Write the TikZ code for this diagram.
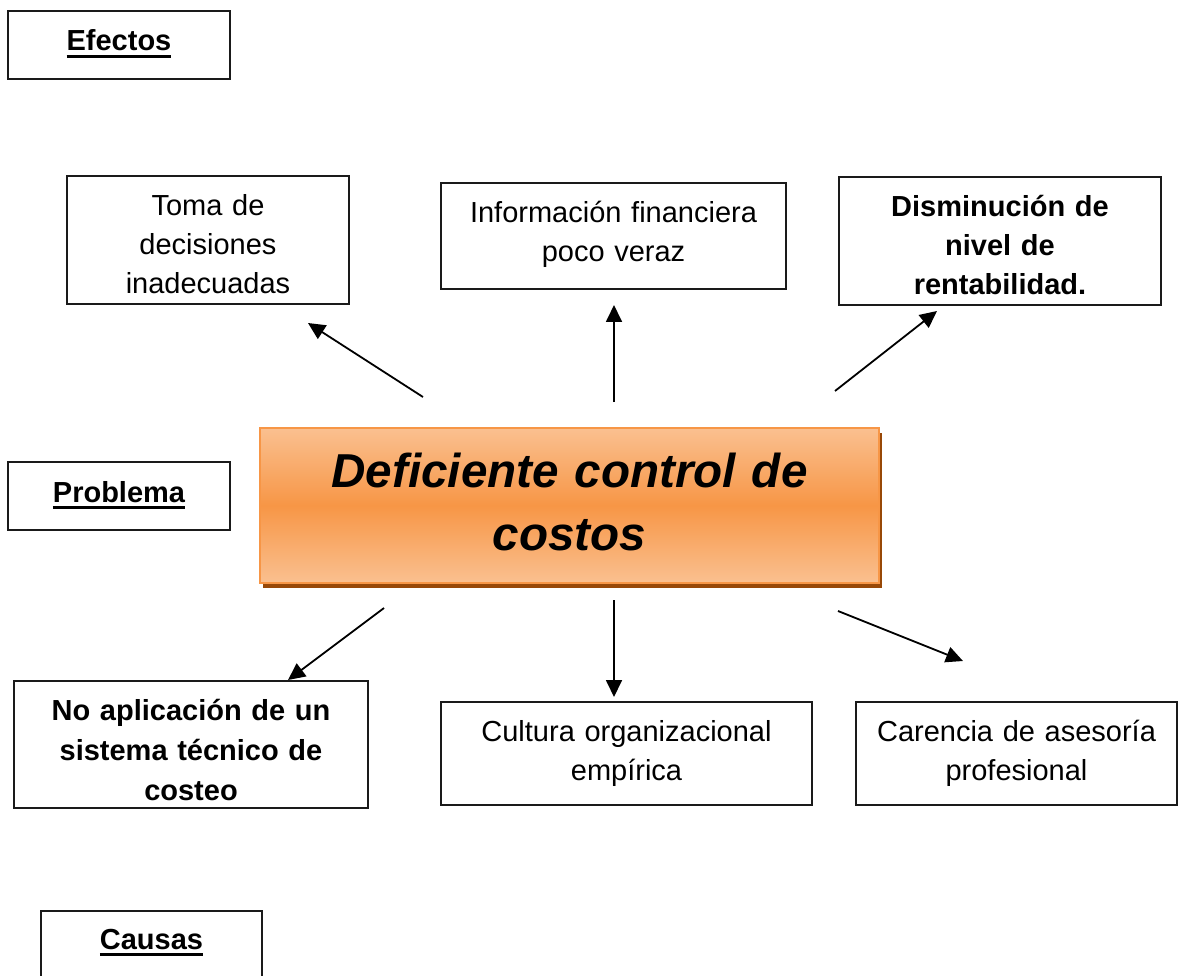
\documentclass[tikz,border=0pt]{standalone}
\usepackage{fontspec}
\setmainfont{Liberation Sans}
\usetikzlibrary{arrows.meta,shadows}
\definecolor{topc}{HTML}{FAC090}
\definecolor{midc}{HTML}{F79646}
\definecolor{edgec}{HTML}{F79646}
\definecolor{shadc}{HTML}{984807}
\definecolor{linec}{HTML}{1A1A1A}
\newcommand{\myul}[1]{\leavevmode\setbox0=\hbox{#1}\rlap{\raisebox{-7pt}{\rule{\wd0}{2.8pt}}}\box0}
\begin{document}
\begin{tikzpicture}[x=1pt,y=-1pt,
  every node/.style={inner sep=0pt, outer sep=0pt},
  boxnode/.style={draw=linec, line width=1.6pt, align=center, anchor=north west,
    font=\fontsize{29}{39}\selectfont},
  tagbox/.style={draw=linec, line width=1.6pt, anchor=north west,
    font=\fontsize{29}{39}\selectfont\bfseries},
  arr/.style={-{Triangle[length=17pt,width=16pt]}, line width=1.8pt, draw=black}
]
\useasboundingbox (0,0) rectangle (1178,976);

% label boxes
\node[tagbox, minimum width=222pt, text height=40pt, text depth=28pt] (efectos) at (8,11) {\myul{Efectos}};
\node[tagbox, minimum width=222pt, text height=40pt, text depth=28pt] (problema) at (8,462) {\myul{Problema}};
\node[tagbox, minimum width=221pt, text height=38pt, text depth=90pt] (causas) at (41,911) {\myul{Causas}};

% effect boxes
\node[boxnode, minimum width=282pt, text height=39.5pt, text depth=88.5pt, text width=260pt] (toma) at (67,176)
  {Toma de\\decisiones\\inadecuadas};
\node[boxnode, minimum width=345pt, text height=40pt, text depth=66pt, text width=330pt] (info) at (441,183)
  {Información financiera\\poco veraz};
\node[boxnode, minimum width=322pt, text height=39.5pt, text depth=88.5pt, text width=300pt,
  font=\fontsize{29}{39}\selectfont\bfseries] (dism) at (839,177)
  {Disminución de\\nivel de\\rentabilidad.};

% problem box
\node[anchor=north west, minimum width=619pt, text height=59pt, text depth=96pt, text width=600pt,
  align=center, draw=edgec, line width=1.5pt,
  top color=topc, bottom color=topc, middle color=midc,
  drop shadow={shadow xshift=3pt, shadow yshift=-5pt, fill=shadc, opacity=1},
  font=\fontsize{47.6}{63}\selectfont\bfseries\itshape] (central) at (260,428)
  {Deficiente control de\\costos};

% cause boxes
\node[boxnode, minimum width=354pt, text height=39pt, text depth=88pt, text width=330pt,
  font=\fontsize{29}{40}\selectfont\bfseries] (noap) at (14,681)
  {No aplicación de un\\sistema técnico de\\costeo};
\node[boxnode, minimum width=371pt, minimum height=103pt, text width=350pt] (cult) at (441,702)
  {Cultura organizacional\\empírica};
\node[boxnode, minimum width=321pt, minimum height=103pt, text width=300pt] (care) at (856,702)
  {Carencia de asesoría\\profesional};

% arrow end points
\coordinate (a1s) at (423,397); \coordinate (a1e) at (308,323);
\coordinate (a2s) at (614,402); \coordinate (a2e) at (614,305);
\coordinate (a3s) at (835,391); \coordinate (a3e) at (937,311);
\coordinate (a4s) at (384,608); \coordinate (a4e) at (288,680);
\coordinate (a5s) at (614,600); \coordinate (a5e) at (614,697);
\coordinate (a6s) at (838,611); \coordinate (a6e) at (963,661);

\draw[arr] (a1s) -- (a1e);
\draw[arr] (a2s) -- (a2e);
\draw[arr] (a3s) -- (a3e);
\draw[arr] (a4s) -- (a4e);
\draw[arr] (a5s) -- (a5e);
\draw[arr] (a6s) -- (a6e);
\end{tikzpicture}
\end{document}
